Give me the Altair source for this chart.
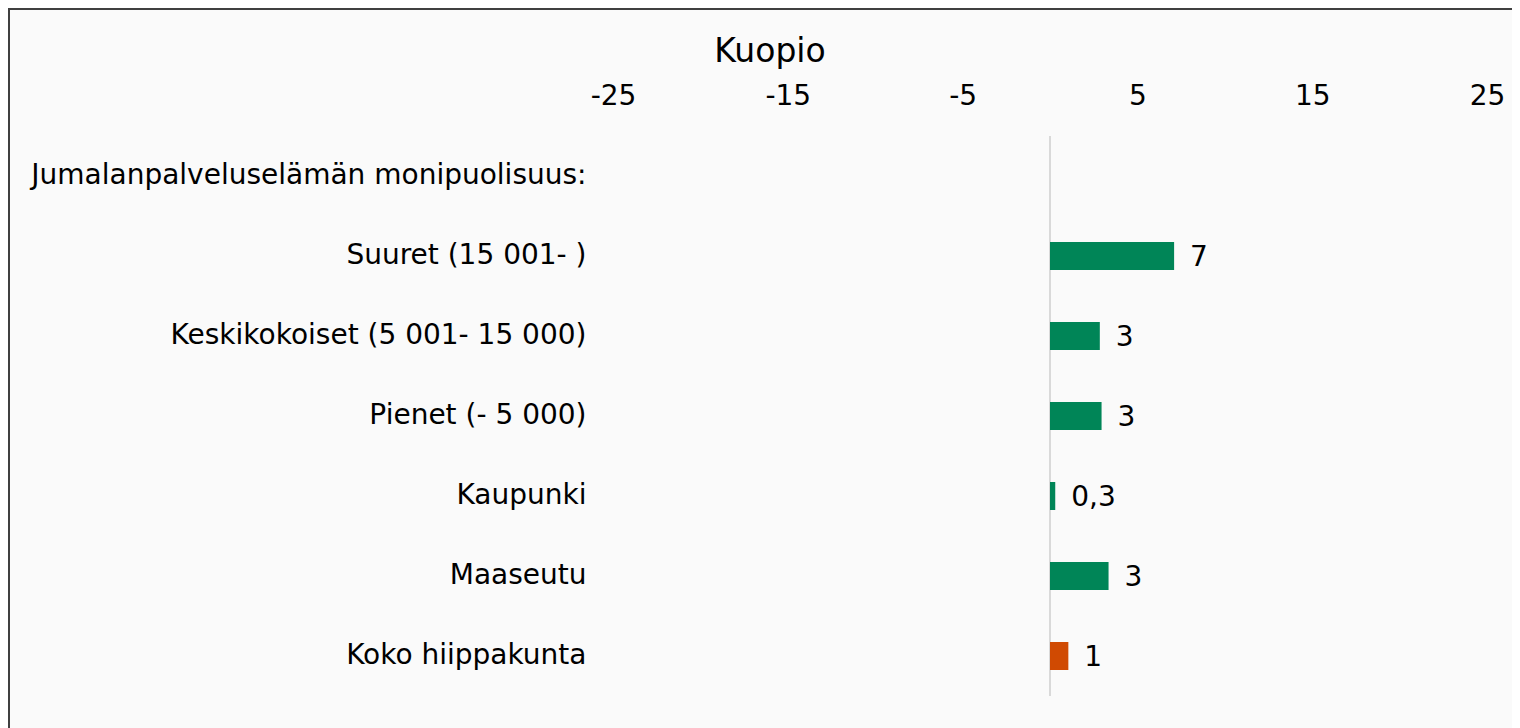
import altair as alt
import pandas as pd

categories = [
    "Jumalanpalveluselämän monipuolisuus:",
    "Suuret (15 001- )",
    "Keskikokoiset (5 001- 15 000)",
    "Pienet (- 5 000)",
    "Kaupunki",
    "Maaseutu",
    "Koko hiippakunta",
]
values = [None, 7.1, 2.85, 2.95, 0.3, 3.35, 1.05]
value_labels = ["", "7", "3", "3", "0,3", "3", "1"]
groups = ["header", "seg", "seg", "seg", "seg", "seg", "total"]
tick_values = [-25, -15, -5, 5, 15, 25]

df = pd.DataFrame({"cat": categories, "val": values, "lab": value_labels, "grp": groups})

FONT = "DejaVu Sans"
FS = 28
W, H = 874, 560
PAD_L, PAD_T = 605, 128
TOTAL_W, TOTAL_H = 1504, 720

y_enc = alt.Y(
    "cat:N",
    sort=categories,
    scale=alt.Scale(paddingInner=0.65, paddingOuter=0.325),
    axis=alt.Axis(
        title=None, ticks=False, domain=False, labelFontSize=FS, labelFont=FONT,
        labelColor="#000000", labelPadding=27, labelLimit=800, grid=False,
    ),
)
x_scale = alt.Scale(domain=[-25, 25], nice=False, zero=False)

base = alt.Chart(df)
frame_src = base.transform_filter(alt.datum.grp == "header")

border_left = frame_src.mark_rule(color="#404040", strokeWidth=2).encode(
    x=alt.value(-PAD_L + 1), y=alt.value(-PAD_T), y2=alt.value(H + 200)
)
border_top = frame_src.mark_rule(color="#404040", strokeWidth=2).encode(
    x=alt.value(-PAD_L), x2=alt.value(W + 200), y=alt.value(-PAD_T + 1)
)

zero_line = alt.Chart(pd.DataFrame({"z": [0]})).mark_rule(color="#d9d9d9", strokeWidth=2).encode(
    x=alt.X("z:Q", scale=x_scale)
)

bars = base.mark_bar().encode(
    x=alt.X(
        "val:Q", scale=x_scale,
        axis=alt.Axis(
            orient="top", values=tick_values, title=None, ticks=False, domain=False, grid=False,
            labelFontSize=FS, labelFont=FONT, labelColor="#000000", labelPadding=26,
            labelFlush=False, labelExpr="'' + datum.value",
        ),
    ),
    y=y_enc,
    color=alt.Color(
        "grp:N",
        scale=alt.Scale(domain=["seg", "total"], range=["#008557", "#d04a02"]),
        legend=None,
    ),
)

labels = base.mark_text(align="left", baseline="middle", dx=16, dy=2, fontSize=FS, font=FONT, color="#000000").encode(
    x=alt.X("val:Q", scale=x_scale),
    y=alt.Y("cat:N", sort=categories),
    text="lab:N",
)

chart = (
    alt.layer(border_left, border_top, zero_line, bars, labels)
    .properties(
        width=W,
        height=H,
        title=alt.TitleParams(
            "Kuopio", fontSize=33, font=FONT, fontWeight="normal", color="#000000",
            frame="group", anchor="middle", dx=-280, offset=-62,
        ),
        autosize=alt.AutoSizeParams(type="none"),
        padding={"left": PAD_L, "top": PAD_T, "right": TOTAL_W - PAD_L - W, "bottom": TOTAL_H - PAD_T - H},
        background="#fafafa",
    )
    .configure_view(strokeWidth=0)
)

chart.save("out.html", embed_options={"renderer": "svg", "actions": False})
